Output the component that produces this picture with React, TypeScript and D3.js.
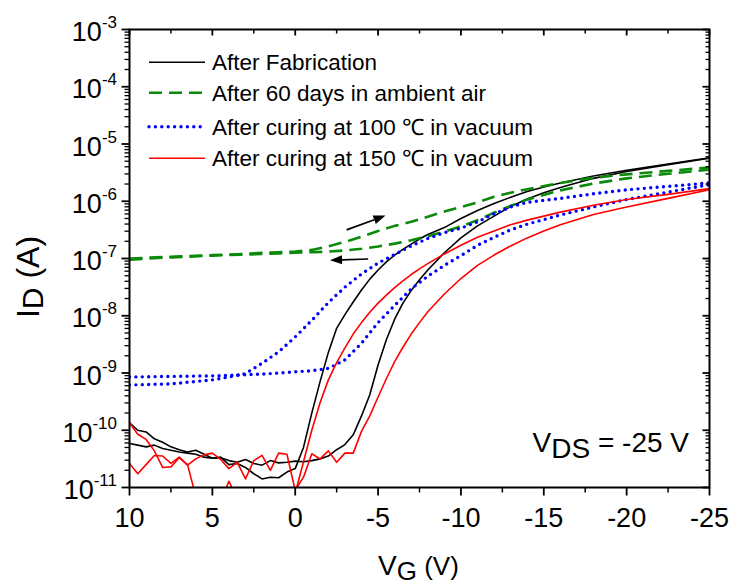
import React from 'react';
import * as d3 from 'd3';

// gate voltage grids (V)
const vgFine = [10, 9.5, 9, 8.5, 8, 7.5, 7, 6.5, 6, 5.5, 5, 4.5, 4, 3.5, 3, 2.5, 2, 1.5, 1, 0.5, 0, -0.5, -1, -1.5, -2, -2.5, -3, -3.5, -4, -4.5, -5, -5.5, -6, -6.5, -7, -7.5, -8, -9, -10, -11, -12, -13, -14, -15, -16, -18, -20, -22.5, -25];
const vgCoarse = [10, 7.5, 5, 4, 3, 2, 1, 0, -1, -2, -3, -4, -5, -6, -7, -8, -9, -10, -11, -12, -13, -14, -16, -18, -20, -22.5, -25];

// log10(I_D / A); two sweeps per condition
const fabFwd = [-9.87, -10.0, -10.03, -10.15, -10.21, -10.29, -10.34, -10.38, -10.35, -10.42, -10.49, -10.47, -10.6, -10.58, -10.65, -10.76, -10.85, -10.82, -10.83, -10.73, -10.67, -10.3, -9.7, -9.15, -8.64, -8.22, -7.98, -7.76, -7.55, -7.36, -7.2, -7.06, -6.94, -6.84, -6.75, -6.66, -6.58, -6.46, -6.3, -6.16, -6.04, -5.93, -5.83, -5.75, -5.68, -5.56, -5.46, -5.35, -5.24];
const fabBwd = [-10.23, -10.26, -10.29, -10.26, -10.32, -10.35, -10.38, -10.4, -10.42, -10.47, -10.49, -10.48, -10.53, -10.56, -10.51, -10.58, -10.61, -10.53, -10.57, -10.56, -10.54, -10.55, -10.53, -10.5, -10.45, -10.34, -10.25, -10.08, -9.75, -9.38, -8.86, -8.42, -8.06, -7.78, -7.56, -7.37, -7.2, -6.9, -6.64, -6.43, -6.26, -6.09, -5.96, -5.85, -5.76, -5.6, -5.48, -5.36, -5.25];

const airFwd = [-7.0, -6.97, -6.94, -6.93, -6.92, -6.9, -6.89, -6.88, -6.85, -6.79, -6.71, -6.62, -6.52, -6.43, -6.36, -6.27, -6.18, -6.1, -6.02, -5.92, -5.85, -5.79, -5.68, -5.59, -5.53, -5.47, -5.41];
const airBwd = [-7.02, -6.98, -6.95, -6.94, -6.93, -6.92, -6.91, -6.9, -6.89, -6.88, -6.86, -6.83, -6.79, -6.74, -6.68, -6.61, -6.53, -6.44, -6.33, -6.2, -6.08, -5.97, -5.81, -5.69, -5.6, -5.52, -5.45];

const cure100Fwd = [-9.21, -9.19, -9.12, -9.07, -9.01, -8.83, -8.63, -8.37, -8.08, -7.77, -7.5, -7.27, -7.08, -6.93, -6.78, -6.65, -6.55, -6.47, -6.36, -6.22, -6.1, -6.02, -5.95, -5.87, -5.8, -5.74, -5.68];
const cure100Bwd = [-9.07, -9.06, -9.05, -9.04, -9.03, -9.02, -9.0, -8.98, -8.96, -8.92, -8.77, -8.48, -8.12, -7.82, -7.53, -7.31, -7.12, -6.95, -6.77, -6.63, -6.5, -6.4, -6.24, -6.1, -5.97, -5.84, -5.71];

const cure150Fwd = [-9.87, -10.07, -10.16, -10.36, -10.65, -10.64, -10.48, -10.6, -11.15, -11.3, -11.2, -11.25, -10.89, -11.2, -11.3, -11.2, -11.25, -11.3, -11.2, -11.25, -11.1, -10.55, -10.0, -9.52, -9.12, -8.82, -8.56, -8.32, -8.12, -7.94, -7.78, -7.64, -7.51, -7.39, -7.28, -7.18, -7.09, -6.92, -6.77, -6.63, -6.52, -6.41, -6.33, -6.26, -6.19, -6.07, -5.97, -5.88, -5.78];
const cure150Bwd = [-10.58, -10.76, -10.6, -10.44, -10.45, -10.58, -10.47, -10.61, -10.5, -10.43, -10.4, -10.51, -10.67, -10.56, -10.85, -10.53, -10.44, -10.7, -10.4, -10.42, -11.05, -10.82, -10.41, -10.5, -10.36, -10.56, -10.4, -10.4, -10.02, -9.75, -9.42, -9.1, -8.8, -8.55, -8.32, -8.12, -7.93, -7.62, -7.35, -7.12, -6.94, -6.78, -6.64, -6.52, -6.41, -6.23, -6.1, -5.95, -5.8];

const seriesNames = ['After Fabrication', 'After 60 days in ambient air', 'After curing at 100 \u2103 in vacuum', 'After curing at 150 \u2103 in vacuum'];

const xMajorTicks = [10, 5, 0, -5, -10, -15, -20, -25];
const xMinorTicks = [7.5, 2.5, -2.5, -7.5, -12.5, -17.5, -22.5];
const yDecades = [-3, -4, -5, -6, -7, -8, -9, -10, -11];

// sweep direction arrows: [VG, log10 ID]
const arrowFwd = [[-3.1, -6.5], [-5.45, -6.25]];
const arrowBwd = [[-4.4, -7.01], [-2.1, -7.03]];

const W = 732;
const H = 586;
const box = { left: 129.5, right: 709.5, top: 29.5, bottom: 487.5 };
const font = '"Liberation Sans", Arial, Helvetica, sans-serif';

const styles = [
  { color: '#000000', width: 1.6, dash: undefined as string | undefined, cap: 'butt' },
  { color: '#0a8a0a', width: 2.6, dash: '13 7', cap: 'butt' },
  { color: '#0000ff', width: 3.4, dash: '0 6.4', cap: 'round' },
  { color: '#ff0000', width: 1.6, dash: undefined as string | undefined, cap: 'butt' },
];

function App() {
  const x = d3.scaleLinear().domain([10, -25]).range([box.left, box.right]);
  const y = d3.scaleLog().domain([1e-11, 1e-3]).range([box.bottom, box.top]);

  const line = d3.line<number[]>()
    .x(d => x(d[0]))
    .y(d => y(Math.pow(10, d[1])));

  const series = [
    { vg: vgFine, sweeps: [fabFwd, fabBwd] },
    { vg: vgCoarse, sweeps: [airFwd, airBwd] },
    { vg: vgCoarse, sweeps: [cure100Fwd, cure100Bwd] },
    { vg: vgFine, sweeps: [cure150Fwd, cure150Bwd] },
  ];

  const yMinor = y.ticks().filter(t => Math.abs(Math.log10(t) - Math.round(Math.log10(t))) > 1e-6);

  const arrow = (pts: number[][], key: string) => {
    const [x1, y1] = [x(pts[0][0]), y(Math.pow(10, pts[0][1]))];
    const [x2, y2] = [x(pts[1][0]), y(Math.pow(10, pts[1][1]))];
    const len = Math.hypot(x2 - x1, y2 - y1);
    const ux = (x2 - x1) / len, uy = (y2 - y1) / len;
    const bx = x2 - ux * 12, by = y2 - uy * 12;
    const px = -uy * 4.5, py = ux * 4.5;
    return (
      <g key={key}>
        <line x1={x1} y1={y1} x2={bx} y2={by} stroke="#000" strokeWidth={1.6} />
        <polygon points={`${x2},${y2} ${bx + px},${by + py} ${bx - px},${by - py}`} fill="#000" />
      </g>
    );
  };

  const legendY = [62.3, 92.8, 126.7, 158.3];

  return (
    <svg width={W} height={H} style={{ position: 'absolute', left: 0, top: 0, background: '#fff' }} fontFamily={font}>
      <defs>
        <clipPath id="plotClip">
          <rect x={box.left} y={box.top} width={box.right - box.left} height={box.bottom - box.top} />
        </clipPath>
      </defs>

      <g clipPath="url(#plotClip)">
        {series.map((s, i) => s.sweeps.map((vals, k) => (
          <path
            key={`${i}-${k}`}
            d={line(s.vg.map((v, j) => [v, vals[j]])) || ''}
            fill="none"
            stroke={styles[i].color}
            strokeWidth={styles[i].width}
            strokeDasharray={styles[i].dash}
            strokeLinecap={styles[i].cap as any}
            strokeLinejoin="round"
          />
        )))}
      </g>

      {arrow(arrowFwd, 'a1')}
      {arrow(arrowBwd, 'a2')}

      {/* frame */}
      <rect x={box.left} y={box.top} width={box.right - box.left} height={box.bottom - box.top} fill="none" stroke="#000" strokeWidth={2} />

      {/* x ticks: bottom outward, top inward */}
      {xMajorTicks.map(t => (
        <g key={`xM${t}`}>
          <line x1={x(t)} x2={x(t)} y1={box.bottom} y2={box.bottom + 8} stroke="#000" strokeWidth={1.8} />
          <line x1={x(t)} x2={x(t)} y1={box.top} y2={box.top + 6} stroke="#000" strokeWidth={1.8} />
          <text x={x(t)} y={527} textAnchor="middle" fontSize={27}>{t}</text>
        </g>
      ))}
      {xMinorTicks.map(t => (
        <g key={`xm${t}`}>
          <line x1={x(t)} x2={x(t)} y1={box.bottom} y2={box.bottom + 5} stroke="#000" strokeWidth={1.5} />
          <line x1={x(t)} x2={x(t)} y1={box.top} y2={box.top + 4} stroke="#000" strokeWidth={1.5} />
        </g>
      ))}

      {/* y ticks: left outward, right inward */}
      {yDecades.map(e => {
        const yy = y(Math.pow(10, e));
        return (
          <g key={`yM${e}`}>
            <line x1={box.left - 8} x2={box.left} y1={yy} y2={yy} stroke="#000" strokeWidth={1.8} />
            <line x1={box.right - 7} x2={box.right} y1={yy} y2={yy} stroke="#000" strokeWidth={1.8} />
            <text x={117} y={yy + 11.5} textAnchor="end" fontSize={27}>
              10<tspan fontSize={17} dy={-13}>{e}</tspan>
            </text>
          </g>
        );
      })}
      {yMinor.map(t => (
        <g key={`ym${t}`}>
          <line x1={box.left - 5} x2={box.left} y1={y(t)} y2={y(t)} stroke="#000" strokeWidth={1.3} />
          <line x1={box.right - 4} x2={box.right} y1={y(t)} y2={y(t)} stroke="#000" strokeWidth={1.3} />
        </g>
      ))}

      {/* legend */}
      {seriesNames.map((name, i) => (
        <g key={name}>
          <line x1={149} x2={205} y1={legendY[i]} y2={legendY[i]} stroke={styles[i].color} strokeWidth={styles[i].width}
            strokeDasharray={styles[i].dash} strokeLinecap={styles[i].cap as any} />
          <text x={212} y={legendY[i] + 8} fontSize={22.5}>{name}</text>
        </g>
      ))}

      <text x={689} y={452} textAnchor="end" fontSize={28}>
        V<tspan dy={6}>DS</tspan><tspan dy={-6}> = -25 V</tspan>
      </text>

      <text x={378} y={575} fontSize={28}>
        V<tspan dy={5} fontSize={26}>G</tspan><tspan dy={-5} fontSize={26}> (V)</tspan>
      </text>

      <text transform="translate(39,277) rotate(-90)" textAnchor="middle" fontSize={32}>
        I<tspan dy={4} fontSize={30}>D</tspan><tspan dy={-4}> (A)</tspan>
      </text>
    </svg>
  );
}

export default App;
